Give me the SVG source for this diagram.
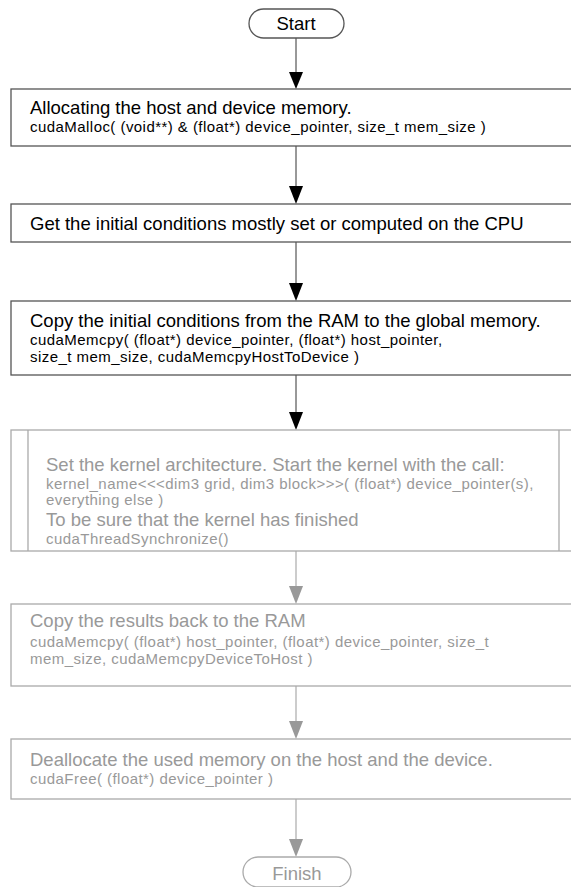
<svg xmlns="http://www.w3.org/2000/svg" width="571" height="887" viewBox="0 0 571 887">
  <style>
    text { font-family: "Liberation Sans", Arial, sans-serif; }
    .box { fill: #ffffff; stroke: #555555; stroke-width: 1.3; }
    .box.dim { stroke: #aaaaaa; }
    .t1 { font-size: 18.5px; fill: #000000; }
    .t2 { font-size: 15px; letter-spacing: 0.45px; fill: #000000; }
    .dim-t1 { font-size: 18.5px; fill: #999999; }
    .dim-t2 { font-size: 15px; letter-spacing: 0.45px; fill: #999999; }
    .edge { stroke: #333333; stroke-width: 1; fill: none; }
    .edge.dim { stroke: #999999; }
    .head { fill: #000000; }
    .head.dim { fill: #999999; }
  </style>
  <rect width="571" height="887" fill="#ffffff"/>

  <g id="connectors">
    <line class="edge" x1="296" y1="38" x2="296" y2="75"/>
    <polygon class="head" points="289,72 303,72 296,89"/>
    <line class="edge" x1="296" y1="146" x2="296" y2="190"/>
    <polygon class="head" points="289,186 303,186 296,204"/>
    <line class="edge" x1="296" y1="242" x2="296" y2="286"/>
    <polygon class="head" points="289,283 303,283 296,301"/>
    <line class="edge" x1="296" y1="375" x2="296" y2="415"/>
    <polygon class="head" points="289,412 303,412 296,430"/>
    <line class="edge dim" x1="296" y1="551" x2="296" y2="590"/>
    <polygon class="head dim" points="289,586 303,586 296,604"/>
    <line class="edge dim" x1="296" y1="686" x2="296" y2="725"/>
    <polygon class="head dim" points="289,721 303,721 296,739"/>
    <line class="edge dim" x1="296" y1="799" x2="296" y2="843"/>
    <polygon class="head dim" points="289,839 303,839 296,857"/>
  </g>

  <g id="start">
    <rect class="box" x="249" y="9" width="95" height="29" rx="14.5"/>
    <text class="t1" x="296" y="30" text-anchor="middle">Start</text>
  </g>

  <g id="allocate">
    <rect class="box" x="11" y="89" width="600" height="57"/>
    <text class="t1" x="30" y="114">Allocating the host and device memory.</text>
    <text class="t2" x="30" y="132">cudaMalloc( (void**) &amp; (float*) device_pointer, size_t mem_size )</text>
  </g>

  <g id="initial-conditions">
    <rect class="box" x="11" y="204" width="600" height="38"/>
    <text class="t1" x="30" y="230">Get the initial conditions mostly set or computed on the CPU</text>
  </g>

  <g id="copy-to-device">
    <rect class="box" x="11" y="301" width="600" height="74"/>
    <text class="t1" x="30" y="327">Copy the initial conditions from the RAM to the global memory.</text>
    <text class="t2" x="30" y="345">cudaMemcpy( (float*) device_pointer, (float*) host_pointer,</text>
    <text class="t2" x="30" y="362">size_t mem_size, cudaMemcpyHostToDevice )</text>
  </g>

  <g id="kernel">
    <rect class="box dim" x="11" y="430" width="600" height="121"/>
    <line class="box dim" x1="28" y1="430" x2="28" y2="551"/>
    <line class="box dim" x1="559" y1="430" x2="559" y2="551"/>
    <text class="dim-t1" x="46" y="471">Set the kernel architecture. Start the kernel with the call:</text>
    <text class="dim-t2" x="46" y="489">kernel_name&lt;&lt;&lt;dim3 grid, dim3 block&gt;&gt;&gt;( (float*) device_pointer(s),</text>
    <text class="dim-t2" x="46" y="505">everything else )</text>
    <text class="dim-t1" x="46" y="526">To be sure that the kernel has finished</text>
    <text class="dim-t2" x="46" y="544">cudaThreadSynchronize()</text>
  </g>

  <g id="copy-to-host">
    <rect class="box dim" x="11" y="604" width="600" height="82"/>
    <text class="dim-t1" x="30" y="627">Copy the results back to the RAM</text>
    <text class="dim-t2" x="30" y="647">cudaMemcpy( (float*) host_pointer, (float*) device_pointer, size_t</text>
    <text class="dim-t2" x="30" y="664">mem_size, cudaMemcpyDeviceToHost )</text>
  </g>

  <g id="deallocate">
    <rect class="box dim" x="11" y="739" width="600" height="60"/>
    <text class="dim-t1" x="30" y="766">Deallocate the used memory on the host and the device.</text>
    <text class="dim-t2" x="30" y="784">cudaFree( (float*) device_pointer )</text>
  </g>

  <g id="finish">
    <rect class="box dim" x="243" y="857" width="108" height="30" rx="15"/>
    <text class="dim-t1" x="297" y="880" text-anchor="middle">Finish</text>
  </g>
</svg>
